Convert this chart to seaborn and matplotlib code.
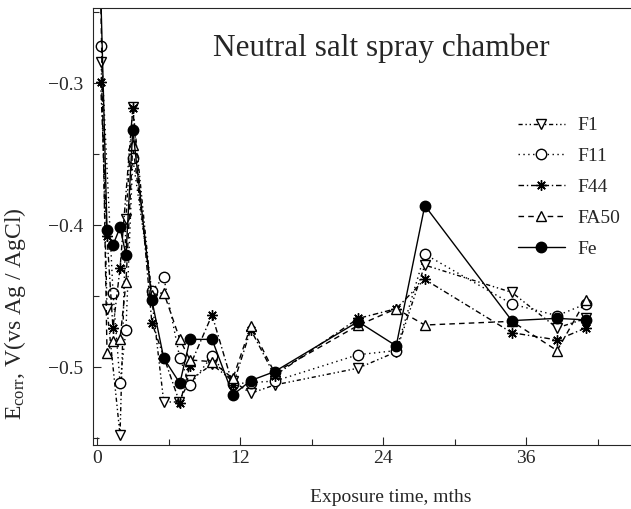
import pandas as pd
import matplotlib
matplotlib.use("Agg")
from matplotlib import pyplot as plt
from matplotlib.ticker import MultipleLocator, FuncFormatter
import seaborn as sns

# exposure time (months) and corrosion potential (V vs Ag/AgCl)
t_f1 = [0.35, 0.84, 1.93, 2.43, 3.0, 4.6, 5.6, 6.85, 7.8, 9.65, 11.4, 12.9, 14.9, 21.9, 25.1, 27.5, 34.8, 38.6, 41.0]
e_f1 = [-0.2853, -0.4589, -0.5478, -0.3954, -0.3169, -0.4521, -0.5246, -0.5246, -0.509, -0.4982, -0.5099, -0.5185,
        -0.5126, -0.5008, -0.4893, -0.4282, -0.4474, -0.4725, -0.4658]

t_f11 = [0.35, 1.34, 1.93, 2.43, 3.0, 4.6, 5.6, 6.95, 7.8, 9.65, 11.4, 12.9, 14.9, 21.9, 25.1, 27.5, 34.8, 38.6, 41.0]
e_f11 = [-0.2742, -0.4476, -0.5109, -0.4736, -0.353, -0.4462, -0.4369, -0.4938, -0.5126, -0.4923, -0.5119, -0.5109,
         -0.5099, -0.4913, -0.4884, -0.4205, -0.4556, -0.4638, -0.4556]

t_f44 = [0.3, 0.84, 1.34, 1.93, 3.0, 4.6, 6.95, 7.8, 9.65, 11.4, 12.9, 14.9, 21.9, 25.1, 27.5, 34.8, 38.6, 41.0]
e_f44 = [-0.2993, -0.4079, -0.4727, -0.4305, -0.3177, -0.4687, -0.5254, -0.4991, -0.4633, -0.5129, -0.4736, -0.506,
         -0.4658, -0.4589, -0.4383, -0.4758, -0.4809, -0.4725]

t_fa50 = [0.25, 0.84, 1.34, 1.93, 2.43, 3.0, 4.6, 5.6, 6.95, 7.8, 9.65, 11.4, 12.9, 14.9, 21.9, 25.1, 27.5, 34.8, 38.6, 41.0]
e_fa50 = [-0.21, -0.4903, -0.4815, -0.4805, -0.4403, -0.3438, -0.4491, -0.4476, -0.4805, -0.495, -0.4962, -0.508,
          -0.4711, -0.504, -0.4707, -0.4589, -0.4704, -0.4678, -0.4884, -0.453]

t_fe = [0.2, 0.84, 1.34, 1.93, 2.43, 3.0, 4.6, 5.6, 6.95, 7.8, 9.65, 11.4, 12.9, 14.9, 21.9, 25.1, 27.5, 34.8, 38.6, 41.0]
e_fe = [-0.20, -0.4036, -0.4141, -0.4017, -0.4211, -0.3328, -0.4528, -0.4938, -0.5114, -0.4805, -0.4805, -0.5196,
        -0.5095, -0.5032, -0.468, -0.4851, -0.3863, -0.4673, -0.4657, -0.4668]

sns.set_style("ticks", {"xtick.direction": "in", "ytick.direction": "in"})
plt.rcParams["font.family"] = ["Liberation Serif", "DejaVu Serif"]
plt.rcParams["mathtext.fontset"] = "custom"
plt.rcParams["mathtext.rm"] = "Liberation Serif"
plt.rcParams["mathtext.it"] = "Liberation Serif:italic"

fig = plt.figure(figsize=(6.31, 5.09), dpi=100)
ax = fig.add_axes([0.1474, 0.1257, 0.8526, 0.8585])

series = [
    ("F1", t_f1, e_f1, "v", "white", (0, (3, 2, 1, 2, 1, 2))),
    ("F11", t_f11, e_f11, "o", "white", (0, (1, 2.5))),
    ("F44", t_f44, e_f44, (8, 2, 0), "black", (0, (4, 2, 1, 2))),
    ("FA50", t_fa50, e_fa50, "^", "white", (0, (4, 3))),
    ("Fe", t_fe, e_fe, "o", "black", "-"),
]

for name, t, e, mk, fc, ls in series:
    df = pd.DataFrame({"time": t, "ecorr": e})
    sns.lineplot(data=df, x="time", y="ecorr", ax=ax, sort=False, estimator=None,
                 color="black", linewidth=1.0, linestyle=ls, marker=mk,
                 markersize=7.5, markerfacecolor=fc, markeredgecolor="black",
                 markeredgewidth=1.0, label=name)

ax.set_xlim(-0.336, 44.8)
ax.set_ylim(-0.5549, -0.2472)
ax.xaxis.set_major_locator(MultipleLocator(12))
ax.xaxis.set_minor_locator(MultipleLocator(6))
ax.yaxis.set_major_locator(MultipleLocator(0.1))
ax.yaxis.set_minor_locator(MultipleLocator(0.05))
ax.tick_params(which="major", length=6, width=0.8, labelsize=14, top=False, right=False)
ax.tick_params(which="minor", length=4, width=0.8, top=False, right=False)
ax.tick_params(axis="y", which="major", pad=7)
ax.yaxis.set_major_formatter(FuncFormatter(lambda v, p: f"{v:.1f}".replace("-", "\u2212")))
ax.spines["right"].set_visible(False)
for s in ["left", "bottom", "top"]:
    ax.spines[s].set_linewidth(0.8)

ax.set_xlabel("Exposure time, mths", fontsize=14)
ax.xaxis.set_label_coords(0.554, -0.10)
ax.set_ylabel(r"E$_{\rm corr}$, V(vs Ag / AgCl)", fontsize=17)
ax.yaxis.set_label_coords(-0.12, 0.30)

ax.text(0.535, 0.908, "Neutral salt spray chamber", transform=ax.transAxes,
        ha="center", va="center", fontsize=22.5)

ax.legend(loc="upper left", bbox_to_anchor=(0.79, 0.751), frameon=False, fontsize=14,
          handlelength=2.4, handletextpad=0.67, labelspacing=0.68, borderpad=0, borderaxespad=0)

plt.savefig("out.png", dpi=100)
